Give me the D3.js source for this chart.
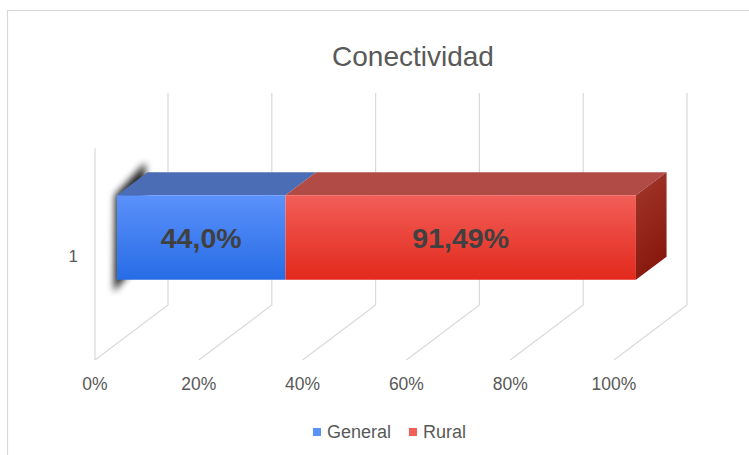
<!DOCTYPE html>
<html>
<head>
<meta charset="utf-8">
<script src="https://cdn.jsdelivr.net/npm/d3@7"></script>
<style>
  body { margin: 0; background: #fff; }
  text { font-family: "Liberation Sans", Arial, sans-serif; }
</style>
</head>
<body>
<svg id="chart" width="749" height="455"></svg>
<script>
// données
const categories = ['1'];
const series = ['General', 'Rural'];
const generalValues = [44.0];
const ruralValues = [91.49];
const valueLabels = { General: ['44,0%'], Rural: ['91,49%'] };
const tickValues = [0, 0.2, 0.4, 0.6, 0.8, 1];
const tickLabels = ['0%', '20%', '40%', '60%', '80%', '100%'];

const colors = {
    General: { top: '#4a6db5', light: '#5b91fa', dark: '#276ce6', side: '#2f55a8', sideDark: '#1e3f8a' },
    Rural: { top: '#b04b45', light: '#f25e58', dark: '#e2291c', side: '#a3382c', sideDark: '#88180e' }
};

const svg = d3.select('#chart');
const W = 749, H = 455;

// profondeur de la perspective
const depthX = 73, depthY = -55;
const barD0 = 0.30, barD1 = 0.72;

const x = d3.scaleLinear().domain([0, 1]).range([95, 614]);
const y = d3.scaleBand().domain(categories).range([148, 360]).padding(0.43);
const floorY = 360, wallTop = 148;

function proj(px, py, d) { return [px + depthX * d, py + depthY * d]; }

const rows = categories.map((c, i) => ({ cat: c, General: generalValues[i], Rural: ruralValues[i] }));
const stacked = d3.stack().keys(series).offset(d3.stackOffsetExpand)(rows);

// dégradés
const defs = svg.append('defs');
series.forEach(s => {
    let g = defs.append('linearGradient').attr('id', 'front_' + s)
        .attr('x1', 0).attr('y1', 0).attr('x2', 0).attr('y2', 1);
    g.append('stop').attr('offset', '0%').attr('stop-color', colors[s].light);
    g.append('stop').attr('offset', '100%').attr('stop-color', colors[s].dark);
    let gs = defs.append('linearGradient').attr('id', 'side_' + s)
        .attr('x1', 0).attr('y1', 0).attr('x2', 0.3).attr('y2', 1);
    gs.append('stop').attr('offset', '0%').attr('stop-color', colors[s].side);
    gs.append('stop').attr('offset', '100%').attr('stop-color', colors[s].sideDark);
});
defs.append('filter').attr('id', 'blur').attr('x', '-50%').attr('y', '-50%').attr('width', '200%').attr('height', '200%')
    .append('feGaussianBlur').attr('stdDeviation', 3.5);

// cadre
svg.append('path')
    .attr('d', `M7.5,${H}V10.5H${W}`)
    .attr('fill', 'none').attr('stroke', '#d9d9d9').attr('stroke-width', 1.2);

// titre
svg.append('text')
    .attr('x', 413).attr('y', 66)
    .attr('text-anchor', 'middle')
    .attr('font-size', 28)
    .attr('fill', '#595959')
    .text('Conectividad');

// grille : mur du fond, sol, mur gauche
const grid = svg.append('g').attr('stroke', '#d9d9d9').attr('stroke-width', 1.2).attr('fill', 'none');
tickValues.forEach(t => {
    let bTop = proj(x(t), wallTop, 1), bBot = proj(x(t), floorY, 1), fBot = proj(x(t), floorY, 0);
    grid.append('path').attr('d', `M${bTop[0]},${bTop[1]}L${bBot[0]},${bBot[1]}L${fBot[0]},${fBot[1]}`);
});
grid.append('line')
    .attr('x1', x(0)).attr('x2', x(0))
    .attr('y1', wallTop).attr('y2', floorY);

// étiquettes de l'axe
svg.append('g').selectAll('text')
    .data(tickValues).enter()
    .append('text')
    .attr('x', d => x(d))
    .attr('y', 390)
    .attr('text-anchor', 'middle')
    .attr('font-size', 17.5)
    .attr('fill', '#595959')
    .text((d, i) => tickLabels[i]);

svg.append('g').selectAll('text')
    .data(categories).enter()
    .append('text')
    .attr('x', 78)
    .attr('y', d => y(d) + y.bandwidth() / 2 + 8)
    .attr('text-anchor', 'end')
    .attr('font-size', 17)
    .attr('fill', '#595959')
    .text(d => d);

// ombre à gauche de la barre
const bars = svg.append('g');
rows.forEach(r => {
    let y0 = y(r.cat), y1 = y0 + y.bandwidth(),
        a = proj(x(0), y0, barD0), b = proj(x(0), y0, barD1),
        c = proj(x(0), y1, barD1), e = proj(x(0), y1, barD0);
    bars.append('path')
        .attr('d', `M${a[0] - 2},${a[1]}L${b[0] - 2},${b[1] - 10}L${c[0] - 4},${c[1]}L${e[0] - 3},${e[1] + 12}Z`)
        .attr('fill', '#000').attr('opacity', 0.85)
        .attr('filter', 'url(#blur)');
});

// barres 3D
stacked.forEach((layer, li) => {
    let s = layer.key;
    layer.forEach((d, i) => {
        let cat = categories[i], y0 = y(cat), y1 = y0 + y.bandwidth(),
            xa = x(d[0]), xb = x(d[1]);
        let f = [proj(xa, y0, barD0), proj(xb, y0, barD0), proj(xb, y1, barD0), proj(xa, y1, barD0)];
        let t = [proj(xa, y0, barD0), proj(xb, y0, barD0), proj(xb, y0, barD1), proj(xa, y0, barD1)];
        // face du dessus
        bars.append('path')
            .attr('d', 'M' + t.join('L') + 'Z')
            .attr('fill', colors[s].top);
        // face avant
        bars.append('path')
            .attr('d', 'M' + f.join('L') + 'Z')
            .attr('fill', `url(#front_${s})`);
        // face de droite (dernière série seulement)
        if (li == stacked.length - 1) {
            let r = [proj(xb, y0, barD0), proj(xb, y0, barD1), proj(xb, y1, barD1), proj(xb, y1, barD0)];
            bars.append('path')
                .attr('d', 'M' + r.join('L') + 'Z')
                .attr('fill', `url(#side_${s})`);
        }
        // étiquette de valeur
        let cx = (f[0][0] + f[1][0]) / 2, cy = (f[0][1] + f[2][1]) / 2;
        bars.append('text')
            .attr('x', cx).attr('y', cy + 10)
            .attr('text-anchor', 'middle')
            .attr('font-size', 28.5)
            .attr('font-weight', 'bold')
            .attr('fill', '#404040')
            .text(valueLabels[s][i]);
    });
});

// légende
const legend = svg.append('g').attr('transform', 'translate(313,432)');
const legendX = [0, 96];
series.forEach((s, i) => {
    let g = legend.append('g').attr('transform', `translate(${legendX[i]},0)`);
    g.append('rect').attr('x', 0).attr('y', -4).attr('width', 8).attr('height', 8)
        .attr('fill', colors[s].light);
    g.append('text').attr('x', 14).attr('y', 6)
        .attr('font-size', 18).attr('fill', '#595959')
        .text(s);
});
</script>
</body>
</html>
